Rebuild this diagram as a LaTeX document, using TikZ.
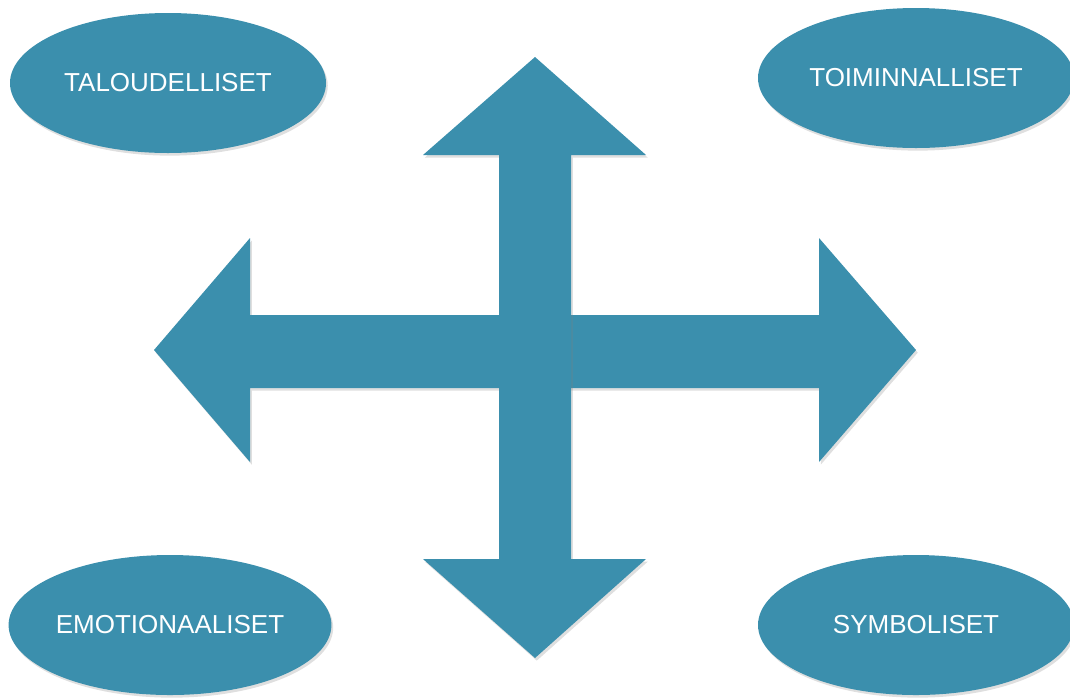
\documentclass[tikz,border=0pt]{standalone}
\usepackage{fontspec}
\setmainfont{Liberation Sans}
\usetikzlibrary{shapes.geometric,shadows}
\definecolor{teal1}{RGB}{59,143,173}
\tikzset{
    soft/.style={drop shadow={opacity=0.25,shadow xshift=1pt,shadow yshift=-1.5pt}},
    blob/.style={ellipse,fill=teal1,soft,text=white,inner sep=0pt,
        minimum width=316*0.02cm,minimum height=140*0.02cm,font=\fontsize{14.8}{17}\selectfont}
}

\begin{document}
\begin{tikzpicture}[x=0.02cm,y=-0.02cm]
    \useasboundingbox (0,0) rectangle (1070,697);
    % Define the coordinates of the horizontal arrow
    \coordinate (L) at (154,350);
    \coordinate (R) at (916,350);
    % Define the coordinates of the vertical arrow
    \coordinate (U) at (535,57);
    \coordinate (D) at (535,658);
    % Horizontal arrow
    \fill[teal1,soft] (L) -- (250,238) -- (250,315) -- (819,315) -- (819,238)
        -- (R) -- (819,462) -- (819,388) -- (250,388) -- (250,462) -- cycle;
    % Vertical arrow
    \fill[teal1,soft] (U) -- (646,155) -- (571,155) -- (571,559) -- (646,559)
        -- (D) -- (423,559) -- (499,559) -- (499,155) -- (423,155) -- cycle;
    % The four groups
    \node[blob] (talous) at (168,83) {TALOUDELLISET};
    \node[blob] (toiminta) at (916,78) {TOIMINNALLISET};
    \node[blob] (emotio) at (170,625) {EMOTIONAALISET};
    \node[blob] (symboli) at (916,625) {SYMBOLISET};
\end{tikzpicture}
\end{document}
